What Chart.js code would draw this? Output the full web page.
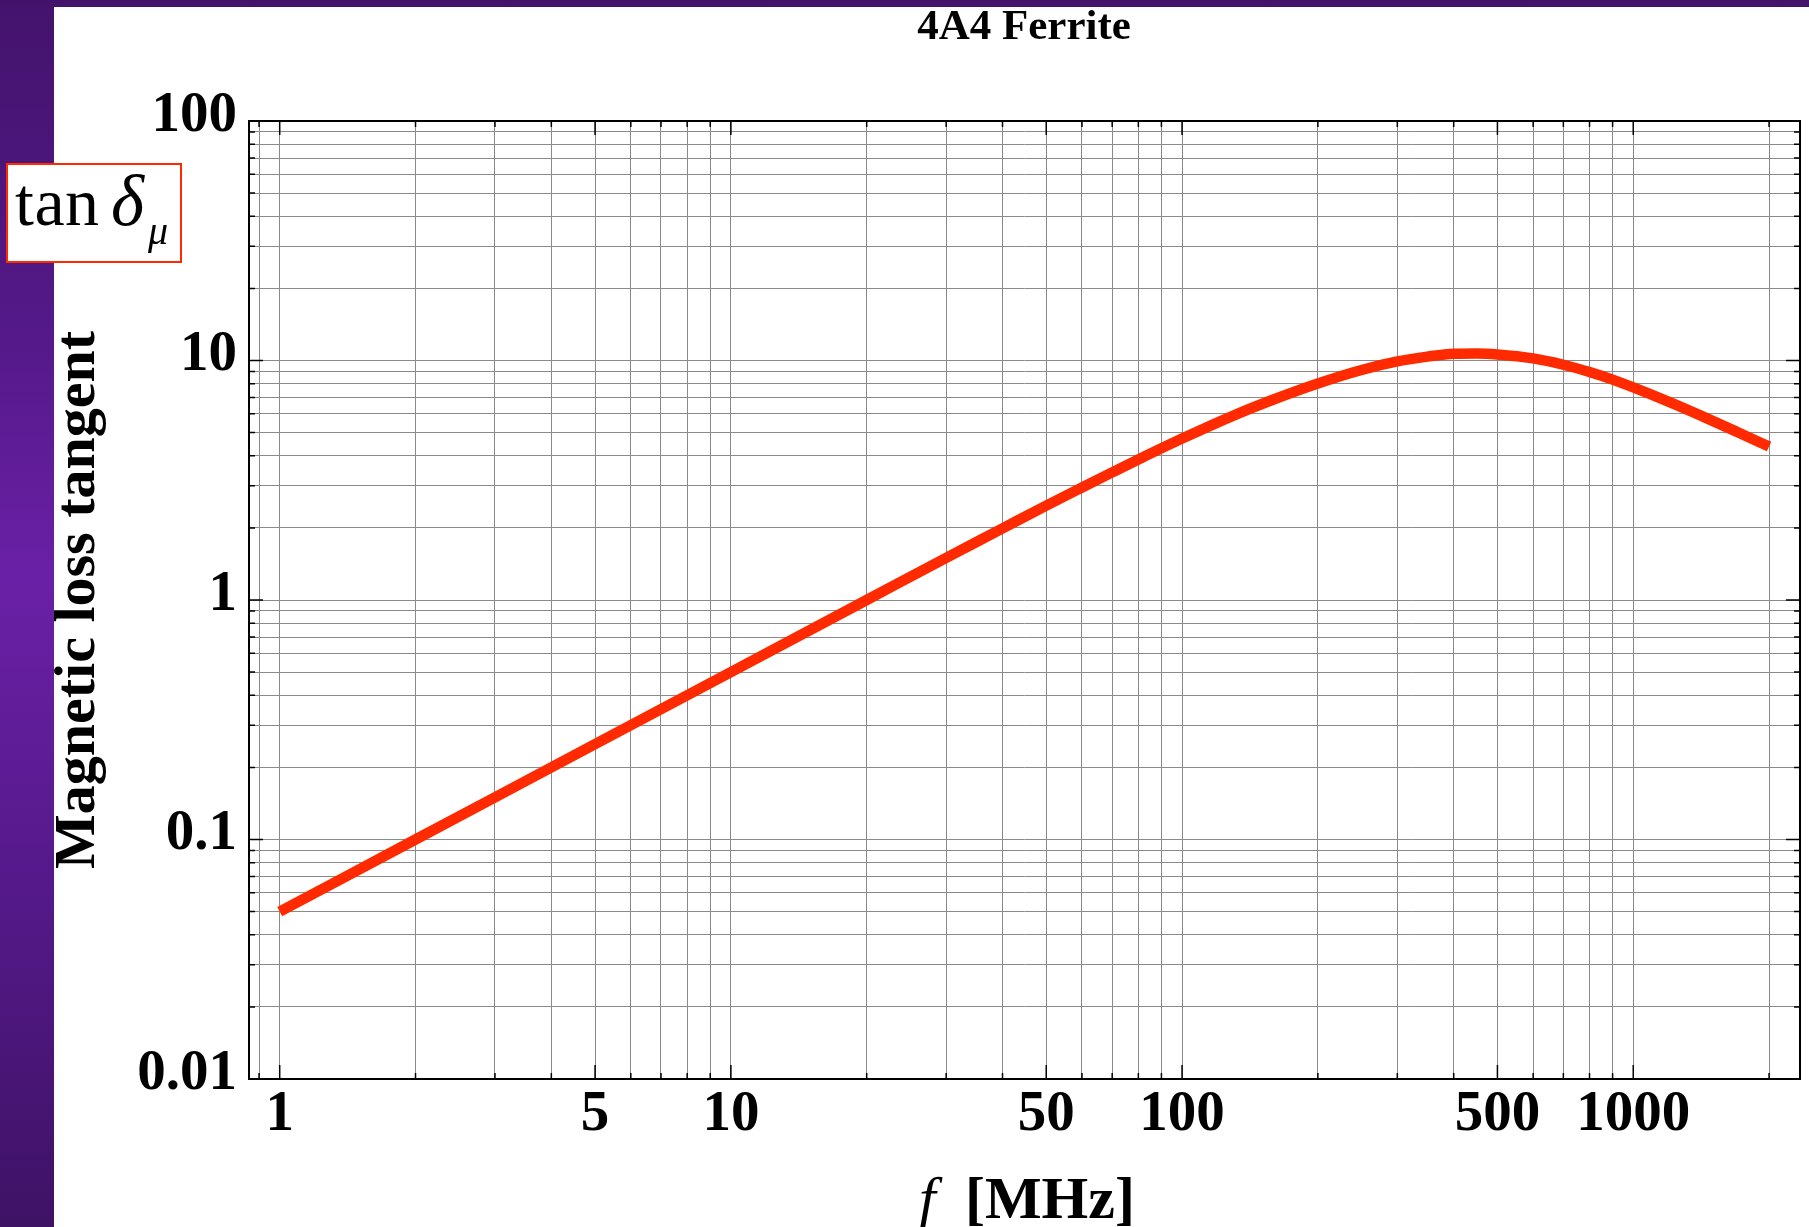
<!DOCTYPE html>
<html>
<head>
<meta charset="utf-8">
<title>4A4 Ferrite</title>
<script src="https://cdn.jsdelivr.net/npm/chart.js@4.4.1/dist/chart.umd.min.js"></script>
<style>
  html, body { margin: 0; padding: 0; background: #fff; }
  #page {
    position: relative; width: 1809px; height: 1227px; overflow: hidden;
    background: linear-gradient(to bottom, #43136c 0%, #55198a 28%, #6a20a6 47%, #55198a 72%, #3e1265 100%);
  }
  #panel { position: absolute; left: 54px; top: 7px; right: 0; bottom: 0; background: #fff; }
  #chartBox { position: absolute; left: 0; top: 0; width: 1809px; height: 1227px; }
  .serif {
    position: absolute; white-space: nowrap; color: #000;
    font-family: 'Liberation Serif', 'Times New Roman', serif;
  }
  #title { left: 824px; width: 400px; top: 3px; text-align: center; font-weight: bold; font-size: 43px; line-height: 43px; }
  #tanBox {
    position: absolute; left: 6px; top: 163px; width: 176px; height: 100px;
    box-sizing: border-box; border: 2.5px solid #ff2a00; background: #fff;
  }
  #tanTxt { left: 15px; top: 168px; font-size: 68px; line-height: 68px; letter-spacing: 0.5px; }
  #deltaTxt { left: 111px; top: 166px; font-size: 71px; line-height: 71px; font-style: italic; }
  #muTxt { left: 148px; top: 211px; font-size: 40px; line-height: 40px; font-style: italic; }
  #xVar { left: 919px; top: 1168px; font-size: 60px; line-height: 60px; font-style: italic; }
  #xUnit { left: 965px; top: 1168px; font-size: 60px; line-height: 60px; font-weight: bold; }
</style>
</head>
<body>
<div id="page">
  <div id="panel"></div>
  <div id="chartBox"><canvas id="chart"></canvas></div>
  <div id="title" class="serif">4A4 Ferrite</div>
  <div id="tanBox"></div>
  <span id="tanTxt" class="serif">tan</span>
  <span id="deltaTxt" class="serif">δ</span>
  <span id="muTxt" class="serif">μ</span>
  <span id="xVar" class="serif">f</span>
  <span id="xUnit" class="serif">[MHz]</span>
</div>

<script>
// --- data ---
const freqMHz = [1, 2, 5, 10, 20, 30, 40, 50, 60, 70, 80, 100, 130, 160, 200, 250, 300,
                 350, 400, 450, 500, 600, 700, 800, 900, 1000, 1200, 1400, 1700, 2000];
const lossTangent = [0.05, 0.1, 0.25, 0.5, 1.0, 1.5, 1.99, 2.48, 2.95, 3.41, 3.86, 4.72, 5.89, 6.89, 8.02, 9.13, 9.91,
                     10.38, 10.67, 10.7, 10.6, 10.2, 9.6, 8.95, 8.32, 7.72, 6.72, 5.93, 5.03, 4.37];

// axis ticks
const xLabelValues = [1, 5, 10, 50, 100, 500, 1000];
const yLabelValues = [0.01, 0.1, 1, 10, 100];
const xRange = [0.855, 2342];
const yRange = [0.01, 100];

// gridline positions: 1..9 x 10^k inside the range
function decadeSteps(lo, hi) {
    const out = [];
    for (let e = Math.floor(Math.log10(lo)); e <= Math.ceil(Math.log10(hi)); e++) {
        for (let m = 1; m <= 9; m++) {
            const v = Number((m * Math.pow(10, e)).toPrecision(6));
            if (v >= lo * 0.9999 && v <= hi * 1.0001) out.push(v);
        }
    }
    return out;
}
const xGridValues = decadeSteps(xRange[0], xRange[1]);
const yGridValues = decadeSteps(yRange[0], yRange[1]);

const isLabel = (list, v) => list.some(l => Math.abs(l - v) / l < 1e-6);
const fmt = v => String(Number(v.toPrecision(6)));

const FONT = "'Liberation Serif', 'Times New Roman', serif";
const LINE_RED = '#ff2a00';

// frame + inward ticks (Mathematica style)
const frameTicks = {
    id: 'frameTicks',
    afterDraw(chart) {
        const { ctx, chartArea: a, scales: { x, y } } = chart;
        ctx.save();
        ctx.strokeStyle = '#000';
        ctx.lineWidth = 1.5;
        ctx.beginPath();
        x.ticks.forEach(t => {
            const px = x.getPixelForValue(t.value);
            const len = isLabel(xLabelValues, t.value) ? 14 : 6;
            ctx.moveTo(px, a.bottom); ctx.lineTo(px, a.bottom - len);
            ctx.moveTo(px, a.top); ctx.lineTo(px, a.top + len);
        });
        y.ticks.forEach(t => {
            const py = y.getPixelForValue(t.value);
            const len = isLabel(yLabelValues, t.value) ? 14 : 6;
            ctx.moveTo(a.left, py); ctx.lineTo(a.left + len, py);
            ctx.moveTo(a.right, py); ctx.lineTo(a.right - len, py);
        });
        ctx.stroke();
        ctx.lineWidth = 2;
        ctx.strokeRect(a.left, a.top, a.right - a.left, a.bottom - a.top);
        ctx.restore();
    }
};

Chart.defaults.font.family = FONT;
Chart.defaults.color = '#000';

new Chart(document.getElementById('chart'), {
    type: 'line',
    data: {
        datasets: [{
            data: freqMHz.map((f, i) => ({ x: f, y: lossTangent[i] })),
            borderColor: LINE_RED,
            borderWidth: 10.5,
            borderCapStyle: 'butt',
            pointRadius: 0,
            fill: false,
            cubicInterpolationMode: 'monotone'
        }]
    },
    options: {
        responsive: true,
        maintainAspectRatio: false,
        animation: false,
        events: [],
        layout: { padding: { top: 121, right: 9, bottom: 0, left: 0 } },
        plugins: {
            legend: { display: false },
            title: { display: false },
            tooltip: { enabled: false }
        },
        scales: {
            x: {
                type: 'logarithmic',
                min: xRange[0],
                max: xRange[1],
                afterBuildTicks: s => { s.ticks = xGridValues.map(v => ({ value: v })); },
                afterFit: s => { s.height = 148; },
                grid: { color: '#8a8a8a', lineWidth: 1, drawTicks: false },
                border: { display: false },
                ticks: {
                    autoSkip: false,
                    maxRotation: 0,
                    padding: 2,
                    color: '#000',
                    font: { family: FONT, size: 57, weight: 'bold', lineHeight: 1.2 },
                    callback: v => isLabel(xLabelValues, v) ? fmt(v) : ''
                }
            },
            y: {
                type: 'logarithmic',
                min: yRange[0],
                max: yRange[1],
                afterBuildTicks: s => { s.ticks = yGridValues.map(v => ({ value: v })); },
                afterFit: s => { s.width = 249; },
                grid: { color: '#8a8a8a', lineWidth: 1, drawTicks: false },
                border: { display: false },
                ticks: {
                    autoSkip: false,
                    padding: 12,
                    labelOffset: -5,
                    color: '#000',
                    font: { family: FONT, size: 57, weight: 'bold', lineHeight: 1.2 },
                    callback: v => isLabel(yLabelValues, v) ? fmt(v) : ''
                },
                title: {
                    display: true,
                    text: 'Magnetic loss tangent',
                    color: '#000',
                    font: { family: FONT, size: 58, weight: 'bold', lineHeight: 1 },
                    padding: { top: 50, bottom: 0 }
                }
            }
        }
    },
    plugins: [frameTicks]
});
</script>
</body>
</html>
